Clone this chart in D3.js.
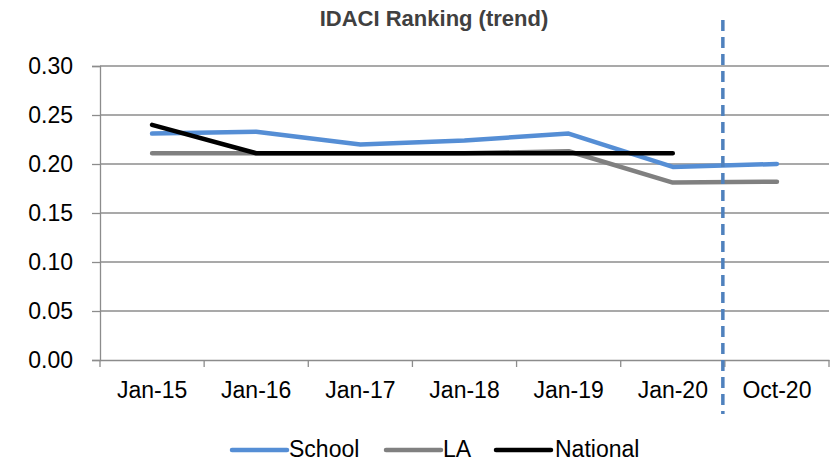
<!DOCTYPE html>
<html lang="en">
<head>
<meta charset="UTF-8" />
<script src="https://d3js.org/d3.v7.min.js"></script>
<style>
  body { margin: 0; background: #fff; }
  text { font-family: "Liberation Sans", Arial, sans-serif; }
</style>
</head>
<body>
<div id="chart"></div>
<script>
// data
var categories = ["Jan-15", "Jan-16", "Jan-17", "Jan-18", "Jan-19", "Jan-20", "Oct-20"];
var school   = [0.231, 0.233, 0.220, 0.224, 0.231, 0.197, 0.200];
var la       = [0.211, 0.211, 0.211, 0.211, 0.213, 0.181, 0.182];
var national = [0.240, 0.211, 0.211, 0.211, 0.211, 0.211, null];
var yTicks   = [0, 0.05, 0.10, 0.15, 0.20, 0.25, 0.30];

var series = [
  { name: "School",   values: school,   color: "#558ed5" },
  { name: "LA",       values: la,       color: "#808080" },
  { name: "National", values: national, color: "#000000" }
];

var width = 836, height = 462;
var margin = { top: 66, right: 7, bottom: 102, left: 100 };

var svg = d3.select("#chart").append("svg")
  .attr("width", width)
  .attr("height", height);

var x = d3.scaleBand()
  .domain(categories)
  .range([margin.left, width - margin.right]);

var y = d3.scaleLinear()
  .domain([0, 0.30])
  .range([height - margin.bottom, margin.top]);

// title
svg.append("text")
  .attr("x", 434).attr("y", 26)
  .attr("text-anchor", "middle")
  .style("font-size", "22px")
  .style("font-weight", "bold")
  .style("fill", "#404040")
  .text("IDACI Ranking (trend)");

// gridlines
svg.append("g")
  .selectAll("line")
  .data(yTicks.slice(1))
  .enter().append("line")
  .attr("x1", margin.left).attr("x2", width - margin.right)
  .attr("y1", function(d) { return y(d); })
  .attr("y2", function(d) { return y(d); })
  .attr("stroke", "#8c8c8c")
  .attr("stroke-width", 1.3);

// y axis
var yAxis = svg.append("g")
  .attr("transform", "translate(" + margin.left + ",0)")
  .call(d3.axisLeft(y).tickValues(yTicks).tickFormat(d3.format(".2f")).tickSize(8).tickPadding(19));
yAxis.selectAll("path, line").attr("stroke", "#8c8c8c").attr("stroke-width", 1.3);
yAxis.selectAll("text").style("font-size", "23px").style("fill", "#000");

// x axis with ticks at band boundaries
var xAxis = svg.append("g")
  .attr("transform", "translate(0," + y(0) + ")")
  .call(d3.axisBottom(x).tickSize(0).tickPadding(22));
xAxis.select("path").attr("stroke", "#8c8c8c").attr("stroke-width", 1.3);
xAxis.selectAll("text").style("font-size", "23px").style("fill", "#000");

var bounds = categories.map(function(c) { return x(c); }).concat([x(categories[categories.length - 1]) + x.bandwidth()]);
xAxis.selectAll(".bound")
  .data(bounds)
  .enter().append("line")
  .attr("x1", function(d) { return d; }).attr("x2", function(d) { return d; })
  .attr("y1", 0).attr("y2", 7)
  .attr("stroke", "#8c8c8c")
  .attr("stroke-width", 1.3);

// lines
var line = d3.line()
  .defined(function(d) { return d != null; })
  .x(function(d, i) { return x(categories[i]) + x.bandwidth() / 2; })
  .y(function(d) { return y(d); });

svg.append("g")
  .selectAll("path")
  .data(series)
  .enter().append("path")
  .attr("d", function(s) { return line(s.values); })
  .attr("fill", "none")
  .attr("stroke", function(s) { return s.color; })
  .attr("stroke-width", 4.5)
  .attr("stroke-linecap", "round")
  .attr("stroke-linejoin", "round");

// dashed divider before the last category
var divX = x(categories[categories.length - 1]) - 2;
svg.append("line")
  .attr("x1", divX).attr("x2", divX)
  .attr("y1", 20).attr("y2", 414)
  .attr("stroke", "#4f81bd")
  .attr("stroke-width", 3.5)
  .attr("stroke-dasharray", "11,6");

// legend
var legendX = [232, 386, 496];
var legend = svg.append("g")
  .selectAll("g")
  .data(series)
  .enter().append("g")
  .attr("transform", function(d, i) { return "translate(" + legendX[i] + ",450)"; });
legend.append("line")
  .attr("x1", 0).attr("x2", 55)
  .attr("stroke", function(d) { return d.color; })
  .attr("stroke-width", 4.5)
  .attr("stroke-linecap", "round");
legend.append("text")
  .attr("x", function(d, i) { return i === 2 ? 59 : 57; }).attr("y", 7)
  .style("font-size", "23px")
  .text(function(d) { return d.name; });
</script>
</body>
</html>
